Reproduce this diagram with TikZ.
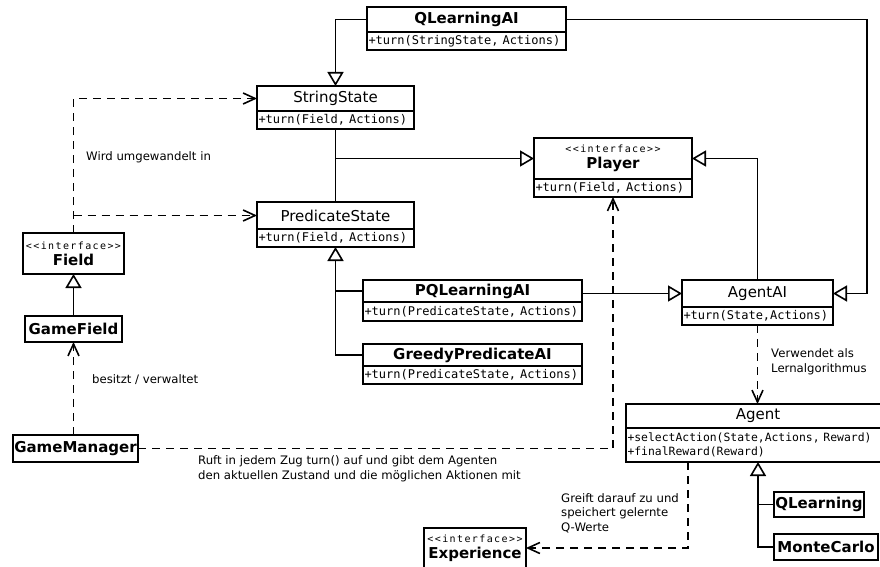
\documentclass[tikz,border=0pt]{standalone}
\usepackage{fontspec}
\setmainfont{DejaVu Sans}
\setmonofont{DejaVu Sans Mono}
\newfontfamily\stereofam{DejaVu Sans Mono}[LetterSpace=14]
\usetikzlibrary{arrows.meta,calc}
\newcommand{\stereofont}{\stereofam\fontsize{10}{12}\selectfont}
\begin{document}
\begin{tikzpicture}[x=1pt,y=-1pt]
\tikzset{
 box/.style={draw, line width=1.7pt, inner sep=0pt, outer sep=0pt, anchor=north west},
 ttl/.style={box, font=\fontsize{15}{18}\selectfont, align=center},
 bttl/.style={box, font=\fontsize{15}{18}\selectfont\bfseries, align=center},
 mth/.style={box, font=\ttfamily\fontsize{12}{14}\selectfont, align=left, inner xsep=1.5pt},
 lbl/.style={font=\fontsize{11.7}{14.5}\selectfont, align=left, anchor=west, inner sep=0pt},
 conn/.style={line width=1.6pt},
 gen/.style={conn, -{Triangle[open, length=14pt, width=16pt]}},
 dep/.style={conn, dash pattern=on 8pt off 6pt, -{Straight Barb[length=12pt, width=11pt]}},
}
\fill[white] (0,0) rectangle (880,567);
\useasboundingbox (0,0) rectangle (880,567);

% classes
\node[bttl, minimum width=199pt, minimum height=25pt] (qlai) at (367,7) {QLearningAI};
\node[mth, text width=196pt, minimum height=18pt] (qlaim) at (qlai.south west) {+turn(StringState, Actions)};

\node[ttl, minimum width=157pt, minimum height=25pt] (ss) at (257,86) {StringState};
\node[mth, text width=154pt, minimum height=18pt] (ssm) at (ss.south west) {+turn(Field, Actions)};

\node[ttl, minimum width=157pt, minimum height=27pt] (ps) at (257,202) {PredicateState};
\node[mth, text width=154pt, minimum height=18pt] (psm) at (ps.south west) {+turn(Field, Actions)};

\node[ttl, minimum width=158pt, minimum height=41pt] (player) at (534,138) {{\stereofont <<interface>>}\\[-2pt]{\bfseries Player}};
\node[mth, text width=155pt, minimum height=18pt] (playerm) at (player.south west) {+turn(Field, Actions)};

\node[ttl, minimum width=151pt, minimum height=27pt] (aai) at (682,280) {AgentAI};
\node[mth, text width=148pt, minimum height=18pt] (aaim) at (aai.south west) {+turn(State,Actions)};

\node[bttl, minimum width=219pt, minimum height=22pt] (pqai) at (363,280) {PQLearningAI};
\node[mth, text width=216pt, minimum height=19pt] (pqaim) at (pqai.south west) {+turn(PredicateState, Actions)};

\node[bttl, minimum width=219pt, minimum height=22pt] (gpai) at (363,344) {GreedyPredicateAI};
\node[mth, text width=216pt, minimum height=18pt] (gpaim) at (gpai.south west) {+turn(PredicateState, Actions)};

\node[ttl, minimum width=264pt, minimum height=24pt] (ag) at (626,404) {Agent};
\node[mth, text width=261pt, minimum height=34pt, font=\ttfamily\fontsize{11.4}{14}\selectfont] (agm) at (ag.south west) {+selectAction(State,Actions, Reward)\\+finalReward(Reward)};

\node[ttl, minimum width=101pt, minimum height=41pt] (fld) at (23,233) {{\stereofont <<interface>>}\\[-2pt]{\bfseries Field}};
\node[bttl, minimum width=97pt, minimum height=26pt] (gf) at (25,316) {GameField};
\node[bttl, minimum width=125pt, minimum height=27pt] (gm) at (13,435) {GameManager};
\node[bttl, minimum width=90pt, minimum height=25pt] (ql) at (774,492) {QLearning};
\node[bttl, minimum width=104pt, minimum height=26pt] (mc) at (774,534) {MonteCarlo};
\node[ttl, minimum width=102pt, minimum height=40pt] (exp) at (424,528) {{\stereofont <<interface>>}\\[-2pt]{\bfseries Experience}};

% generalizations
\draw[gen] (qlai.west) -| (ss.north);
\draw[gen] (qlai.east) -| ([xshift=34pt]aai.east) -- (aai.east);
\draw[conn] (ssm.south) -- (ps.north);
\draw[gen] (ssm.south |- player.west) -- (player.west);
\draw[gen] (aai.north) |- (player.east);
\draw[gen] (gpai.west) -| (psm.south);
\draw[conn] (pqai.west) -- (pqai.west -| psm.south);
\draw[gen] (pqai.east |- aai.west) -- (aai.west);
\draw[gen] (mc.west) -| (agm.south);
\draw[conn] (ql.west) -- (ql.west -| agm.south);
\draw[gen] (gf.north) -- (fld.south);

% dependencies
\draw[dep] (aaim.south) -- (aaim.south |- ag.north);
\draw[dep] ([xshift=-70pt]agm.south) |- (exp.east);
\draw[dep] (gm.east) -| (playerm.south);
\draw[dep] (gf.south |- gm.north) -- (gf.south);
\draw[dep] (fld.north) |- (ss.west);
\draw[dep] (fld.north |- ps.west) -- (ps.west);

% labels
\node[lbl] (l1) at (86,157) {Wird umgewandelt in};
\node[lbl] (l2) at (92,380) {besitzt / verwaltet};
\node[lbl] (l3) at (198,469) {Ruft in jedem Zug turn() auf und gibt dem Agenten\\den aktuellen Zustand und die möglichen Aktionen mit};
\node[lbl] (l4) at (771,362) {Verwendet als\\Lernalgorithmus};
\node[lbl] (l5) at (561,513) {Greift darauf zu und\\speichert gelernte\\Q-Werte};
\end{tikzpicture}
\end{document}
